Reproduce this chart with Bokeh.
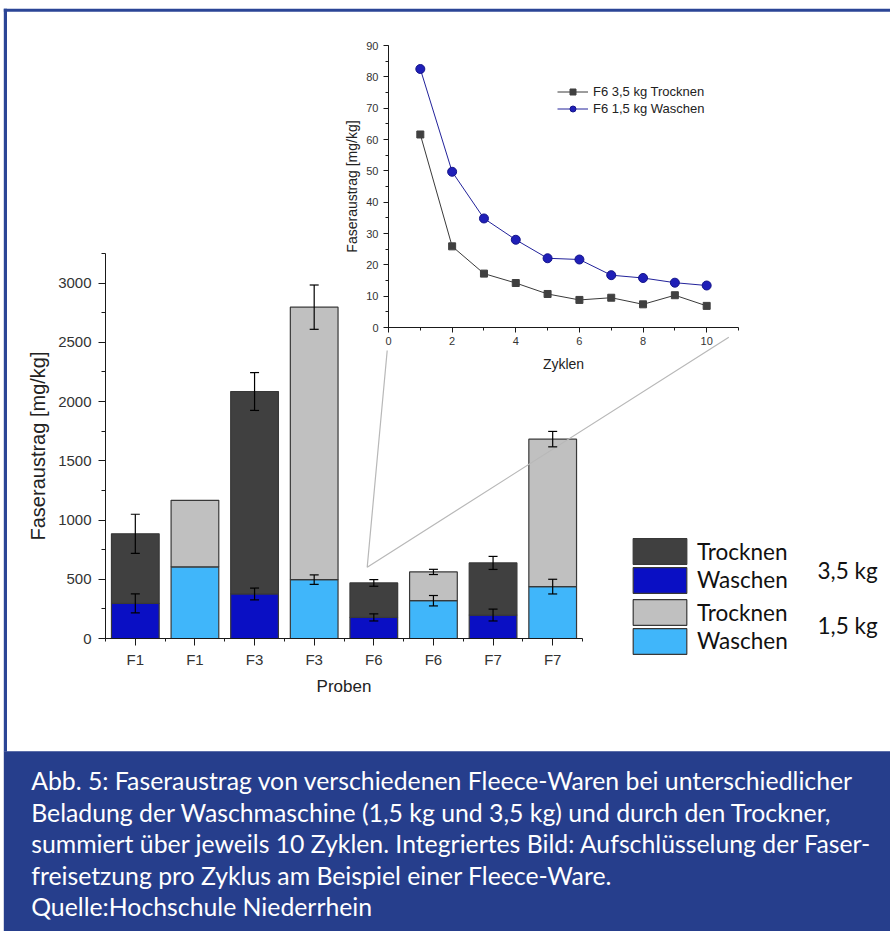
from bokeh.plotting import figure
from bokeh.models import (Range1d, FixedTicker, SingleIntervalTicker, ColumnDataSource,
                          Whisker, TeeHead, Legend, LegendItem, LinearAxis)
from bokeh.core.properties import value
from bokeh.embed import file_html
from bokeh.resources import INLINE

# ---------------- data: main stacked bar chart (mg/kg, summed over 10 cycles) ----------------
samples = ["F1", "F1", "F3", "F3", "F6", "F6", "F7", "F7"]
loading = ["3,5 kg", "1,5 kg", "3,5 kg", "1,5 kg", "3,5 kg", "1,5 kg", "3,5 kg", "1,5 kg"]
waschen = [296, 605, 376, 497, 178, 319, 198, 438]
trocknen = [588, 561, 1709, 2300, 291, 243, 440, 1245]
waschen_err = [80, None, 50, 40, 30, 44, 50, 62]
gesamt_err = [165, None, 160, 187, 28, 22, 55, 65]

# ---------------- data: inset (F6, per cycle) ----------------
zyklen = [1, 2, 3, 4, 5, 6, 7, 8, 9, 10]
f6_trocknen_35 = [61.6, 25.9, 17.2, 14.2, 10.7, 8.8, 9.5, 7.4, 10.3, 6.9]
f6_waschen_15 = [82.5, 49.7, 34.8, 28.0, 22.1, 21.7, 16.7, 15.8, 14.3, 13.4]

legend_labels = ["Trocknen", "Waschen", "Trocknen", "Waschen"]
load_labels = ["3,5 kg", "1,5 kg"]
inset_labels = ["F6 3,5 kg Trocknen", "F6 1,5 kg Waschen"]
caption_lines = [
    "Abb. 5: Faseraustrag von verschiedenen Fleece-Waren bei unterschiedlicher",
    "Beladung der Waschmaschine (1,5 kg und 3,5 kg) und durch den Trockner,",
    "summiert über jeweils 10 Zyklen. Integriertes Bild: Aufschlüsselung der Faser-",
    "freisetzung pro Zyklus am Beispiel einer Fleece-Ware.",
    "Quelle:Hochschule Niederrhein",
]

# ---------------- styles / layout (canvas pixels, y from top) ----------------
GREY_D = "#404040"
BLUE_D = "#0a0fc4"
GREY_L = "#c0c0c0"
BLUE_L = "#40b6fa"
EDGE = "#383838"
FRAME_BLUE = "#2b4596"
CAPTION_BLUE = "#263e8c"
AX_FONT = "Liberation Sans"
TXT_FONT = "Lato"
W, H = 890, 931

BAR_X_PX = (105, 582)    # frame of the bar chart: x from -0.5 to 7.5
BAR_Y_PX = (638, 253)    # y from 0 to 3250
BAR_YMAX = 3250
INS_X_PX = (388, 738)    # inset: x from 0 to 11
INS_Y_PX = (327, 45)     # inset: y from 0 to 90
INS_XMAX, INS_YMAX = 11, 90


def x_range_for(v0, p0, v1, p1):
    k = (v1 - v0) / (p1 - p0)
    return Range1d(start=v0 + (0 - p0) * k, end=v0 + (W - p0) * k)


def y_range_for(v0, p0, v1, p1):
    k = (v1 - v0) / (p1 - p0)
    return Range1d(start=v0 + (H - p0) * k, end=v0 + (0 - p0) * k)


p = figure(width=W, height=H, x_range=Range1d(0, W), y_range=Range1d(H, 0),
           output_backend="svg", toolbar_location=None, title=None,
           x_axis_location=None, y_axis_location=None, min_border=0)
p.background_fill_color = None
p.border_fill_color = None
p.outline_line_color = None
p.grid.visible = False

p.extra_x_ranges = {
    "bx": x_range_for(-0.5, BAR_X_PX[0], len(samples) - 0.5, BAR_X_PX[1]),
    "ix": x_range_for(0, INS_X_PX[0], INS_XMAX, INS_X_PX[1]),
}
p.extra_y_ranges = {
    "by": y_range_for(0, BAR_Y_PX[0], BAR_YMAX, BAR_Y_PX[1]),
    "iy": y_range_for(0, INS_Y_PX[0], INS_YMAX, INS_Y_PX[1]),
}


def style_axis(ax, tick_out, minor_out, lab_size, tick_size, standoff, lab_standoff):
    ax.axis_line_color = "#1a1a1a"
    ax.major_tick_line_color = "#1a1a1a"
    ax.minor_tick_line_color = "#1a1a1a"
    ax.major_tick_in = 0
    ax.major_tick_out = tick_out
    ax.minor_tick_in = 0
    ax.minor_tick_out = minor_out
    ax.major_label_text_font = AX_FONT
    ax.major_label_text_font_size = tick_size
    ax.major_label_text_color = "#333333"
    ax.major_label_standoff = standoff
    ax.axis_label_text_font = AX_FONT
    ax.axis_label_text_font_size = lab_size
    ax.axis_label_text_font_style = "normal"
    ax.axis_label_text_color = "#222222"
    ax.axis_label_standoff = lab_standoff


# ---------------- frame and caption ----------------
p.quad(left=[3.3, 3.3], right=[W, 6.5], top=[8.3, 8.3], bottom=[11.2, 751],
       fill_color=FRAME_BLUE, line_color=None)
p.quad(left=[3.3], right=[W], top=[750.7], bottom=[H], fill_color=CAPTION_BLUE, line_color=None)
p.text(x=[30.7] * len(caption_lines), y=[780 + 31.5 * i for i in range(len(caption_lines))],
       text=caption_lines, text_font=value(TXT_FONT), text_font_size="24.8px",
       text_color="white", text_baseline="middle")

# ---------------- bar chart ----------------
xpos = list(range(len(samples)))


def group_source(load):
    idx = [i for i, l in enumerate(loading) if l == load]
    return ColumnDataSource(dict(
        x=[xpos[i] for i in idx],
        w=[waschen[i] for i in idx],
        t=[waschen[i] + trocknen[i] for i in idx],
    ))


src35 = group_source("3,5 kg")
src15 = group_source("1,5 kg")
bk = dict(x_range_name="bx", y_range_name="by", width=0.8, line_color=EDGE, line_width=1.2)
r_w35 = p.vbar(x="x", bottom=0, top="w", source=src35, fill_color=BLUE_D, **bk)
r_t35 = p.vbar(x="x", bottom="w", top="t", source=src35, fill_color=GREY_D, **bk)
r_w15 = p.vbar(x="x", bottom=0, top="w", source=src15, fill_color=BLUE_L, **bk)
r_t15 = p.vbar(x="x", bottom="w", top="t", source=src15, fill_color=GREY_L, **bk)

wb, wl, wu, gb, gl, gu = [], [], [], [], [], []
for i in xpos:
    if waschen_err[i] is not None:
        wb.append(xpos[i]); wl.append(waschen[i] - waschen_err[i]); wu.append(waschen[i] + waschen_err[i])
    if gesamt_err[i] is not None:
        tot = waschen[i] + trocknen[i]
        gb.append(xpos[i]); gl.append(tot - gesamt_err[i]); gu.append(tot + gesamt_err[i])
for b, lo, up in [(wb, wl, wu), (gb, gl, gu)]:
    s = ColumnDataSource(dict(base=b, lower=lo, upper=up))
    p.add_layout(Whisker(source=s, base="base", lower="lower", upper="upper", dimension="height",
                         x_range_name="bx", y_range_name="by",
                         line_color="black", line_width=1.2, level="overlay",
                         upper_head=TeeHead(size=9, line_color="black", line_width=1.2),
                         lower_head=TeeHead(size=9, line_color="black", line_width=1.2)))

bxa = LinearAxis(x_range_name="bx", y_range_name="by", fixed_location=0,
                 bounds=(-0.5, len(samples) - 0.5), axis_label="Proben",
                 ticker=FixedTicker(ticks=xpos, minor_ticks=[i - 0.5 for i in range(len(samples) + 1)]),
                 major_label_overrides={i: s for i, s in enumerate(samples)})
style_axis(bxa, 7, 3, "17px", "15px", 5, 6)
p.add_layout(bxa, "below")
bya = LinearAxis(x_range_name="bx", y_range_name="by", fixed_location=-0.5,
                 bounds=(0, BAR_YMAX), axis_label="Faseraustrag [mg/kg]",
                 ticker=SingleIntervalTicker(interval=500, num_minor_ticks=2))
style_axis(bya, 7, 4, "20px", "15px", 7, 6)
p.add_layout(bya, "left")

# legends (one per row), positions from the canvas bottom-left
legend_pos = [(626, 364), (626, 335.5), (626, 303), (626, 274.5)]
for r, lab, loc in zip([r_t35, r_w35, r_t15, r_w15], legend_labels, legend_pos):
    p.add_layout(Legend(items=[LegendItem(label=value(lab), renderers=[r])], location=loc,
                        glyph_width=67, glyph_height=32, padding=0, margin=0, spacing=0,
                        label_standoff=4, border_line_color=None, background_fill_alpha=0,
                        label_text_font=TXT_FONT, label_text_font_size="22.5px",
                        label_text_color="#111111"))
p.text(x=[817, 817], y=[570, 625], text=load_labels, text_font=value(TXT_FONT),
       text_font_size="22.5px", text_color="#111111", text_baseline="middle")

# ---------------- inset line chart ----------------
ik = dict(x_range_name="ix", y_range_name="iy")
l1 = p.line(zyklen, f6_trocknen_35, line_color="#3a3a3a", line_width=1, **ik)
m1 = p.scatter(zyklen, f6_trocknen_35, marker="square", size=7, fill_color="#404040",
               line_color="#404040", **ik)
l2 = p.line(zyklen, f6_waschen_15, line_color="#22229a", line_width=1, **ik)
m2 = p.scatter(zyklen, f6_waschen_15, marker="circle", size=9, fill_color="#1f1fb8",
               line_color="#15158a", **ik)
ixa = LinearAxis(fixed_location=0, bounds=(0, INS_XMAX), axis_label="Zyklen",
                 ticker=SingleIntervalTicker(interval=2, num_minor_ticks=2), **ik)
style_axis(ixa, 5, 3, "14px", "11px", 4, 8)
p.add_layout(ixa, "below")
iya = LinearAxis(fixed_location=0, bounds=(0, INS_YMAX), axis_label="Faseraustrag [mg/kg]",
                 ticker=SingleIntervalTicker(interval=10, num_minor_ticks=2), **ik)
style_axis(iya, 5, 3, "14px", "11px", 5, 3)
p.add_layout(iya, "left")
p.add_layout(Legend(items=[LegendItem(label=value(inset_labels[0]), renderers=[l1, m1]),
                           LegendItem(label=value(inset_labels[1]), renderers=[l2, m2])],
                    location=(557, 815), glyph_width=31, glyph_height=15, label_height=15,
                    padding=0, margin=0, spacing=2, label_standoff=5,
                    border_line_color=None, background_fill_alpha=0,
                    label_text_font=AX_FONT, label_text_font_size="13px",
                    label_text_color="#222222"))

# connector lines from the inset to the F6 bar
p.line(x=[386.7, 366.7, 728.3], y=[350, 566.7, 336.7], line_color="#b8b8b8", line_width=1.2)

open("out.html", "w").write(file_html(p, INLINE))
